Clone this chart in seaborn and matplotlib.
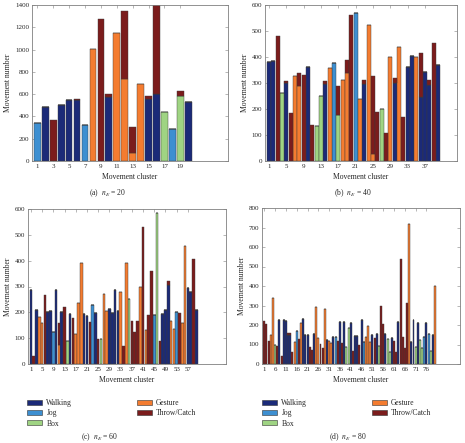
import pandas as pd
import matplotlib.pyplot as plt
import matplotlib.patches as mpatches
import seaborn as sns

sns.set_style("ticks")
plt.rcParams['font.family'] = ['Liberation Serif', 'DejaVu Serif']
plt.rcParams['mathtext.fontset'] = 'stix'

# data ---------------------------------------------------------
activities = ["Walking", "Jog", "Box", "Gesture", "Throw/Catch"]
colors = ["#1b2a78", "#3d8fd1", "#9fd483", "#f47c30", "#7b1c1c"]
code = {"W": "Walking", "J": "Jog", "B": "Box", "G": "Gesture", "T": "Throw/Catch"}

# each cluster: main activity, its count, and extra Throw/Catch stacked on top
a_class = ["J", "W", "T", "W", "W", "W", "J", "G", "T", "W",
           "G", "G", "G", "G", "W", "W", "B", "J", "B", "W"]
a_base = [340, 485, 370, 500, 545, 545, 320, 1005, 1270, 570,
          1150, 740, 75, 690, 560, 600, 440, 285, 585, 530]
a_top = [0, 0, 0, 0, 0, 15, 0, 0, 0, 30,
         0, 610, 230, 0, 25, 850, 0, 0, 45, 0]

b_class = ["W", "W", "T", "B", "W", "T", "G", "G", "T", "W",
           "T", "B", "B", "W", "G", "J", "B", "G", "G", "T",
           "J", "G", "W", "G", "G", "T", "B", "T", "G", "W",
           "G", "T", "W", "W", "G", "W", "W", "W", "T", "W"]
b_base = [380, 385, 480, 262, 300, 183, 328, 288, 330, 362,
          140, 133, 250, 298, 358, 378, 178, 310, 338, 563,
          568, 240, 298, 522, 25, 188, 200, 108, 400, 300,
          440, 170, 360, 402, 400, 245, 342, 292, 452, 370]
b_top = [0, 0, 0, 0, 8, 0, 0, 50, 0, 0,
         0, 0, 0, 10, 0, 0, 110, 0, 52, 0,
         0, 0, 14, 0, 300, 0, 0, 0, 0, 20,
         0, 0, 0, 0, 0, 170, 0, 18, 0, 0]

c_class = ["W", "T", "W", "G", "G", "T", "W", "W", "J", "W",
           "G", "W", "T", "B", "W", "T", "G", "G", "G", "W",
           "W", "T", "J", "W", "T", "B", "G", "G", "W", "W",
           "W", "W", "G", "T", "G", "B", "T", "T", "T", "G",
           "T", "G", "T", "T", "J", "B", "T", "W", "W", "W",
           "G", "G", "J", "T", "G", "G", "W", "W", "T", "W"]
c_base = [288, 32, 208, 182, 158, 268, 200, 205, 125, 285,
          72, 203, 220, 88, 193, 180, 118, 236, 392, 192,
          187, 163, 228, 198, 98, 96, 272, 205, 212, 198,
          285, 207, 278, 70, 390, 253, 168, 125, 168, 300,
          530, 133, 188, 360, 190, 585, 88, 193, 208, 305,
          165, 137, 200, 197, 160, 455, 295, 278, 405, 208]
c_top = [0] * 10 + [86] + [0] * 38 + [18] + [0] * 10

d_class = ["T", "T", "T", "G", "G", "B", "T", "W", "T", "W",
           "W", "W", "W", "T", "G", "J", "T", "G", "W", "W",
           "W", "T", "T", "W", "G", "G", "T", "T", "G", "W",
           "G", "G", "W", "J", "T", "W", "T", "W", "B", "B",
           "W", "T", "W", "W", "T", "W", "J", "G", "G", "G",
           "W", "T", "W", "B", "T", "T", "W", "B", "B", "W",
           "T", "T", "W", "T", "T", "T", "T", "G", "W", "W",
           "B", "W", "B", "B", "J", "W", "J", "B", "W", "G"]
d_base = [220, 205, 120, 150, 340, 95, 90, 225, 40, 225,
          218, 150, 150, 62, 113, 168, 130, 210, 230, 148,
          148, 85, 70, 152, 290, 135, 105, 80, 280, 122,
          118, 108, 138, 140, 120, 215, 110, 215, 88, 185,
          208, 65, 145, 145, 98, 225, 115, 140, 195, 112,
          148, 135, 155, 92, 300, 205, 152, 130, 62, 135,
          118, 60, 215, 540, 138, 82, 312, 720, 112, 225,
          88, 210, 122, 82, 140, 210, 152, 65, 150, 398]
d_top = [0] * 11 + [8, 8] + [0] * 67


def make_df(cls, base, top):
    rows = []
    for i, (c, b, t) in enumerate(zip(cls, base, top), start=1):
        rows.append((i, code[c], b))
        if t:
            rows.append((i, "Throw/Catch", t))
    return pd.DataFrame(rows, columns=["cluster", "activity", "count"])


W, H = 465, 443
def px_axes(x0, y0, x1, y1):
    return fig.add_axes([x0 / W, 1 - y1 / H, (x1 - x0) / W, (y1 - y0) / H])


fig = plt.figure(figsize=(W / 100, H / 100), dpi=100)

panels = [
    (a_class, a_base, a_top, (32, 5, 228, 161), (0.33, 25.0), 1400, 200, range(1, 20, 2), "(a)", 20, (108, 193)),
    (b_class, b_base, b_top, (265, 5, 457, 161), (0.1, 44.4), 600, 100, range(1, 38, 4), "(b)", 40, (353, 193)),
    (c_class, c_base, c_top, (28, 209, 226, 364), (-0.05, 70.6), 600, 100, range(1, 58, 4), "(c)", 60, (100, 437)),
    (d_class, d_base, d_top, (262, 208, 460, 364), (-0.05, 91.5), 800, 100, range(1, 77, 5), "(d)", 80, (348, 437)),
]

pal = dict(zip(activities, colors))
for cls, base, top, box, xl, ymax, ystep, xt, tag, n, cap in panels:
    ax = px_axes(*box)
    df = make_df(cls, base, top)
    sns.histplot(df, x="cluster", weights="count", hue="activity",
                 hue_order=activities[::-1], palette=pal,
                 multiple="stack", discrete=True,
                 shrink=0.85 if n == 20 else 0.92,
                 alpha=1, edgecolor="#3a3a3a", linewidth=0.3,
                 legend=False, ax=ax)
    ax.set_xlim(*xl)
    ax.set_ylim(0, ymax)
    ax.set_xticks(list(xt))
    ax.set_yticks(range(0, ymax + 1, ystep))
    ax.tick_params(direction="in", top=True, right=True, length=2,
                   width=0.4, color="#808080", labelsize=5, pad=2)
    for sp in ax.spines.values():
        sp.set_visible(True)
        sp.set_color("#808080")
        sp.set_linewidth(0.6)
    ax.set_xlabel("Movement cluster", fontsize=5.5, labelpad=3)
    ax.set_ylabel("Movement number", fontsize=5.5, labelpad=2)
    fig.text(cap[0] / W, 1 - cap[1] / H, tag + r"  $n_E$ = " + str(n),
             ha="center", va="center", fontsize=5.5)

handles = [mpatches.Patch(facecolor=c, edgecolor="#333333", linewidth=0.4, label=a)
           for a, c in zip(activities, colors)]
for lx in (27, 262):
    fig.legend(handles=handles, loc="upper left", ncol=2,
               bbox_to_anchor=(lx / W, 1 - 399 / H), borderaxespad=0,
               borderpad=0, frameon=False, fontsize=5.5,
               handlelength=2.0, handleheight=0.6, handletextpad=0.55,
               labelspacing=0.3, columnspacing=8.4)

plt.savefig("out.png", dpi=100)
